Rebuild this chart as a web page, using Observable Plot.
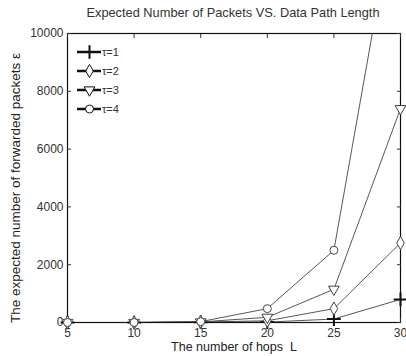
<!DOCTYPE html>
<html><head><meta charset="utf-8">
<script src="https://cdn.jsdelivr.net/npm/d3@7"></script>
<script src="https://cdn.jsdelivr.net/npm/@observablehq/plot@0.6"></script>
<style>
body{margin:0;background:#fff;font-family:"Liberation Sans",Arial,sans-serif;}
#wrap{position:relative;width:406px;height:356px;}
#title{position:absolute;left:60px;width:346px;top:5px;text-align:center;font-size:12.8px;color:#333;}
#legend{position:absolute;left:77px;top:42px;font-size:11px;color:#333;}
#legend .row{height:19px;display:flex;align-items:center;}
</style></head>
<body><div id="wrap"><div id="title">Expected Number of Packets VS. Data Path Length</div><div id="legend"></div></div>
<script>
const hops = [5, 10, 15, 20, 25, 30];
const tau1 = [0, 0, 10, 15, 120, 800];
const tau2 = [0, 0, 15, 60, 480, 2750];
const tau3 = [0, 0, 20, 180, 1150, 7400];
const tau4 = [0, 0, 30, 480, 2500, 15500];
const seriesNames = ["τ=1", "τ=2", "τ=3", "τ=4"];
const symbols = ["plus", "diamond", "triangle", "circle"];
const rotations = [0, 0, 180, 0];
const yTicks = [0, 2000, 4000, 6000, 8000, 10000];
const xTicks = [5, 10, 15, 20, 25, 30];

const all = [tau1, tau2, tau3, tau4];
const data = [];
all.forEach((vals, i) => vals.forEach((v, j) => data.push({L: hops[j], v, s: seriesNames[i], k: i})));

const marks = [
  Plot.frame({stroke: "#111", strokeWidth: 1.2}),
  Plot.axisX({ticks: xTicks, tickSize: 0, tickPadding: 6, fontSize: 12, tickFormat: d => String(d), label: null}),
  Plot.axisX({ticks: xTicks, anchor: "bottom", tickSize: -4, tickFormat: () => "", label: null}),
  Plot.axisX({ticks: xTicks, anchor: "top", tickSize: -4, tickFormat: () => "", label: null}),
  Plot.axisY({ticks: yTicks, tickSize: 0, tickPadding: 4, fontSize: 12, tickFormat: d => String(d), label: null}),
  Plot.axisY({ticks: yTicks, anchor: "left", tickSize: -4, tickFormat: () => "", label: null}),
  Plot.axisY({ticks: yTicks, anchor: "right", tickSize: -4, tickFormat: () => "", label: null}),
];
all.forEach((vals, i) => {
  const d = data.filter(r => r.k === i);
  marks.push(Plot.line(d, {x: "L", y: "v", stroke: "#444", strokeWidth: 0.9, clip: true}));
  marks.push(Plot.dot(d.filter(r => r.v <= 10000), {x: "L", y: "v", symbol: () => symbols[i], rotate: rotations[i], r: i === 0 ? 4.5 : 4, stroke: i === 0 ? "#111" : "#444", strokeWidth: i === 0 ? 2 : 1, fill: i === 0 ? "none" : "white"}));
});
marks.push(Plot.text(["The number of hops  L"], {frameAnchor: "bottom", dy: 28, text: d => d, fontSize: 12.5, fill: "#222"}));
marks.push(Plot.text(["The expected number of forwarded packets ε"], {frameAnchor: "left", dx: -52, dy: 10, rotate: -90, textAnchor: "middle", text: d => d, fontSize: 13.5, fill: "#222"}));

const chart = Plot.plot({
  width: 406, height: 356,
  marginLeft: 67, marginRight: 6, marginTop: 33, marginBottom: 34,
  x: {domain: [5, 30]},
  y: {domain: [0, 10000]},
  style: {fontFamily: "Liberation Sans, Arial, sans-serif", color: "#333", background: "white"},
  marks
});
document.getElementById("wrap").prepend(chart);
chart.style.position = "absolute"; chart.style.left = "0"; chart.style.top = "0";

// legend
const leg = document.getElementById("legend");
seriesNames.forEach((name, i) => {
  const row = document.createElement("div"); row.className = "row";
  const sw = Plot.plot({
    width: 24, height: 19, margin: 0,
    x: {domain: [0, 1], axis: null}, y: {domain: [0, 1], axis: null},
    marks: [
      Plot.lineX([0, 1], {x: d => d, y: 0.5, stroke: "#111", strokeWidth: 2.5}),
      Plot.dot([0.5], {x: d => d, y: 0.5, symbol: () => symbols[i], rotate: rotations[i], r: i === 0 ? 4.5 : 4, stroke: "#111", strokeWidth: i === 0 ? 2 : 1, fill: i === 0 ? "none" : "white"})
    ]
  });
  row.appendChild(sw);
  const t = document.createElement("span"); t.textContent = name; t.style.marginLeft = "1px";
  row.appendChild(t);
  leg.appendChild(row);
});
</script></body></html>
